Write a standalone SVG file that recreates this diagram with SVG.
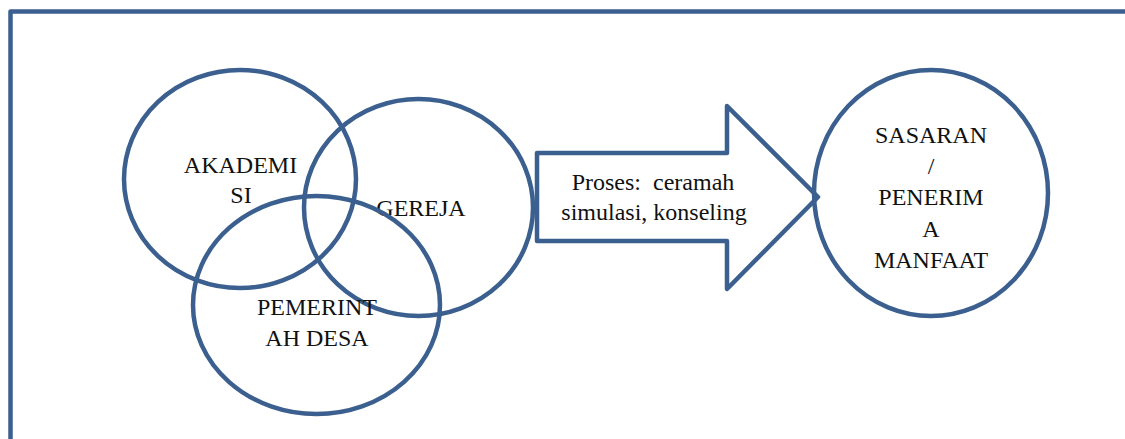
<svg xmlns="http://www.w3.org/2000/svg" width="1125" height="439" viewBox="0 0 1125 439">
<style>
.s{fill:none;stroke:#3B5F8E;stroke-width:4.5;stroke-linejoin:round}
.t{font-family:"Liberation Serif","Times New Roman",serif;font-size:24px;fill:#111;text-anchor:middle}
</style>
<rect x="0" y="0" width="1125" height="439" fill="#fff"/>
<g id="frame"><path class="s" d="M10.5 439 V11.5 H1125"/></g>
<g id="akademisi">
<ellipse class="s" cx="240" cy="179" rx="116" ry="109"/>
<text class="t" x="240.5" y="173">AKADEMI</text>
<text class="t" x="241" y="203">SI</text>
</g>
<g id="gereja">
<ellipse class="s" cx="418.5" cy="207.5" rx="114.5" ry="108.5"/>
<text class="t" x="421" y="216">GEREJA</text>
</g>
<g id="pemerintah">
<ellipse class="s" cx="316.5" cy="305" rx="123.5" ry="109"/>
<text class="t" x="317" y="315">PEMERINT</text>
<text class="t" x="317" y="346">AH DESA</text>
</g>
<g id="connectors">
<g id="proses">
<path class="s" style="fill:#fff" d="M537 153 H727 V106 L818 197 L727 289 V241 H537 Z"/>
<text class="t" x="653" y="190" xml:space="preserve">Proses:  ceramah</text>
<text class="t" x="654" y="220">simulasi, konseling</text>
</g>
</g>
<g id="sasaran">
<ellipse class="s" cx="931" cy="193" rx="117" ry="123"/>
<text class="t" x="931" y="143">SASARAN</text>
<text class="t" x="931" y="174">/</text>
<text class="t" x="931" y="205">PENERIM</text>
<text class="t" x="931" y="237">A</text>
<text class="t" x="931" y="268">MANFAAT</text>
</g>
</svg>
